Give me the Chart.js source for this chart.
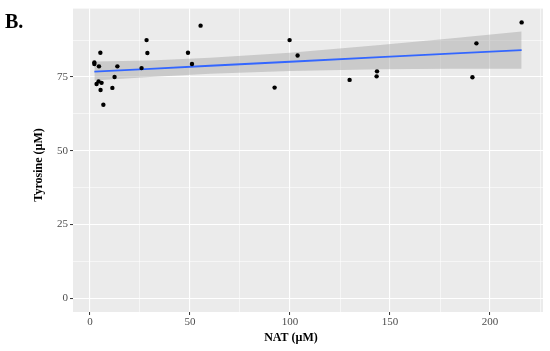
<!DOCTYPE html>
<html>
<head>
<meta charset="utf-8">
<script src="https://cdn.jsdelivr.net/npm/chart.js@4.4.0/dist/chart.umd.min.js"></script>
<style>
  html, body { margin: 0; padding: 0; background: #fff; }
  #c { display: block; }
</style>
</head>
<body>
<canvas id="c" width="550" height="351"></canvas>
<script>
// observed samples
const natValues = [2.2, 2.2, 5.2, 4.5, 3.3, 4.3, 5.8, 5.3, 6.7, 11.2, 12.3, 13.7, 25.8, 28.3, 28.7,
  49, 51, 55.3, 92.3, 99.8, 103.8, 129.8, 143.5, 143.3, 191.2, 193.2, 215.8];
const tyrValues = [79.9, 79.4, 83.2, 78.6, 72.6, 73.5, 73.0, 70.6, 65.6, 71.3, 75.0, 78.6, 78.0, 87.5, 83.1,
  83.2, 79.4, 92.4, 71.4, 87.5, 82.3, 74.0, 76.9, 75.2, 74.9, 86.4, 93.5];

// fitted line and confidence band
const fitX = [2.2, 30, 60, 100, 145, 180, 215.8];
const fitY = [76.8, 77.75, 78.8, 80.15, 81.7, 82.9, 84.1];
const bandUpper = [80.2, 80.55, 81.5, 83.25, 85.8, 88.0, 90.4];
const bandLower = [73.8, 74.95, 76.1, 77.05, 77.6, 77.8, 77.8];

// axes
const xTicks = [0, 50, 100, 150, 200];
const xMinor = [25, 75, 125, 175, 225];
const yTicks = [0, 25, 50, 75];
const yMinor = [12.5, 37.5, 62.5, 87.5];

const serif = "'Liberation Serif', 'Times New Roman', serif";
const toPts = (xs, ys) => xs.map((x, i) => ({ x: x, y: ys[i] }));

// grey panel, panel letter and axis titles
const decor = {
  id: 'decor',
  beforeDraw(chart) {
    const { ctx, chartArea: a } = chart;
    ctx.save();
    ctx.fillStyle = '#EBEBEB';
    ctx.fillRect(a.left, a.top, a.right - a.left, a.bottom - a.top);
    ctx.restore();
  },
  afterDraw(chart) {
    const ctx = chart.ctx;
    ctx.save();
    ctx.fillStyle = '#000';
    ctx.font = 'bold 20px ' + serif;
    ctx.textBaseline = 'alphabetic';
    ctx.textAlign = 'left';
    ctx.fillText('B.', 5, 27.5);

    ctx.font = 'bold 12px ' + serif;
    ctx.textAlign = 'center';
    ctx.textBaseline = 'middle';
    ctx.fillText('NAT (µM)', 291, 338);

    ctx.translate(39, 165);
    ctx.rotate(-Math.PI / 2);
    ctx.fillText('Tyrosine (µM)', 0, 0);
    ctx.restore();
  }
};

function gridFor(majors) {
  return {
    color: '#FFFFFF',
    lineWidth: c => majors.includes(c.tick.value) ? 1.1 : 0.55,
    tickColor: c => majors.includes(c.tick.value) ? '#333333' : 'rgba(0,0,0,0)',
    tickLength: 3,
    tickWidth: 1
  };
}

new Chart(document.getElementById('c'), {
  type: 'scatter',
  data: {
    datasets: [
      {
        label: 'samples',
        data: toPts(natValues, tyrValues),
        backgroundColor: '#000',
        borderWidth: 0,
        pointRadius: 2.2,
        order: 0
      },
      {
        label: 'fit',
        type: 'line',
        data: toPts(fitX, fitY),
        borderColor: '#3366FF',
        borderWidth: 1.8,
        pointRadius: 0,
        fill: false,
        order: 1
      },
      {
        label: 'upper',
        type: 'line',
        data: toPts(fitX, bandUpper),
        borderWidth: 0,
        borderColor: 'rgba(0,0,0,0)',
        backgroundColor: 'rgba(153,153,153,0.4)',
        pointRadius: 0,
        fill: '+1',
        order: 2
      },
      {
        label: 'lower',
        type: 'line',
        data: toPts(fitX, bandLower),
        borderWidth: 0,
        borderColor: 'rgba(0,0,0,0)',
        pointRadius: 0,
        fill: false,
        order: 3
      }
    ]
  },
  options: {
    responsive: false,
    animation: false,
    layout: { padding: { left: 0, right: 7, top: 8, bottom: 0 } },
    plugins: { legend: { display: false }, tooltip: { enabled: false } },
    scales: {
      x: {
        type: 'linear',
        min: -8.48,
        max: 226.48,
        afterBuildTicks: s => { s.ticks = xTicks.concat(xMinor).sort((a, b) => a - b).map(v => ({ value: v })); },
        afterFit: s => { s.height = 39; },
        border: { display: false },
        grid: gridFor(xTicks),
        ticks: {
          autoSkip: false,
          maxRotation: 0,
          padding: 1,
          color: '#4D4D4D',
          font: { family: serif, size: 11 },
          callback: v => xTicks.includes(v) ? String(v) : ''
        }
      },
      y: {
        type: 'linear',
        min: -4.675,
        max: 98.175,
        afterBuildTicks: s => { s.ticks = yTicks.concat(yMinor).sort((a, b) => a - b).map(v => ({ value: v })); },
        afterFit: s => { s.width = 73; },
        border: { display: false },
        grid: gridFor(yTicks),
        ticks: {
          autoSkip: false,
          padding: 2,
          color: '#4D4D4D',
          font: { family: serif, size: 11 },
          callback: v => yTicks.includes(v) ? String(v) : ''
        }
      }
    }
  },
  plugins: [decor]
});
</script>
</body>
</html>
